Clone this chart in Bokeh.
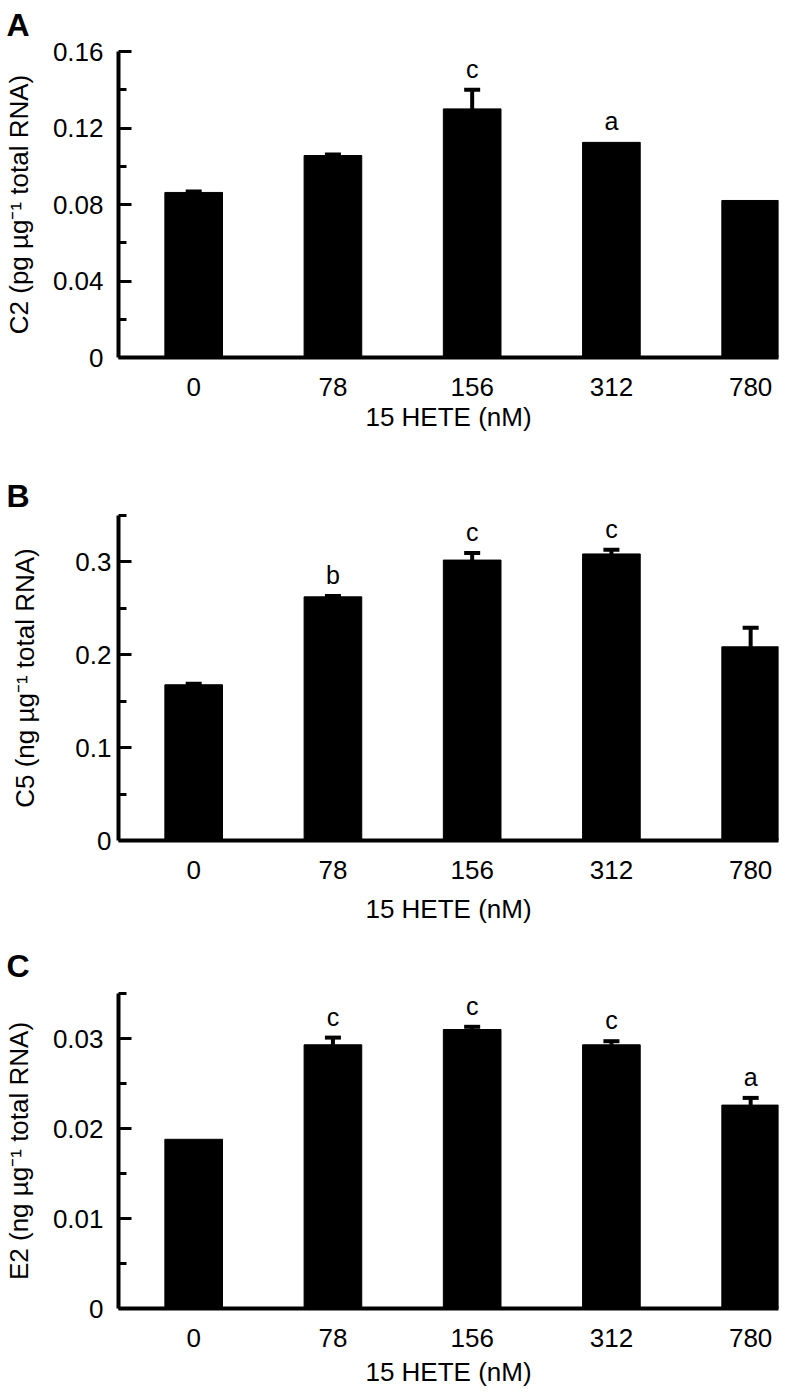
from bokeh.plotting import figure
from bokeh.models import Range1d, FixedTicker, ColumnDataSource, LabelSet, Whisker, TeeHead
from bokeh.core.properties import value
from bokeh.layouts import column
from bokeh.embed import file_html
from bokeh.resources import INLINE

# ---------------- data ----------------
concentrations = ["0", "78", "156", "312", "780"]
x_title = "15 HETE (nM)"

c2_values = [0.0863, 0.1056, 0.1300, 0.1125, 0.0821]
c2_errors = [0.0005, 0.0005, 0.0100, 0.0, 0.0]
c2_letters = ["", "", "c", "a", ""]
c2_ticks = [0, 0.04, 0.08, 0.12, 0.16]
c2_tick_labels = ["0", "0.04", "0.08", "0.12", "0.16"]
c2_minor = [0.02, 0.06, 0.10, 0.14]
c2_ylabel = "C2 (pg µg⁻¹ total RNA)"

c5_values = [0.1677, 0.2624, 0.3020, 0.3086, 0.2086]
c5_errors = [0.0010, 0.0010, 0.0077, 0.0044, 0.0204]
c5_letters = ["", "b", "c", "c", ""]
c5_ticks = [0, 0.1, 0.2, 0.3]
c5_tick_labels = ["0", "0.1", "0.2", "0.3"]
c5_minor = [0.05, 0.15, 0.25, 0.35]
c5_ylabel = "C5 (ng µg⁻¹ total RNA)"

e2_values = [0.0188, 0.0293, 0.0310, 0.0293, 0.0226]
e2_errors = [0.0, 0.0008, 0.0003, 0.0004, 0.0008]
e2_letters = ["", "c", "c", "c", "a"]
e2_ticks = [0, 0.01, 0.02, 0.03]
e2_tick_labels = ["0", "0.01", "0.02", "0.03"]
e2_minor = [0.005, 0.015, 0.025, 0.035]
e2_ylabel = "E2 (ng µg⁻¹ total RNA)"

FONT = "Liberation Sans"
X_START, X_END = -0.54, 4.2
LEFT = 115


def make_panel(values, errors, letters, ticks, tick_labels, minor, ymax, ylabel,
               panel_letter, height, top, bottom, tick_standoff,
               ylab_standoff, xlab_standoff, title_standoff):
    p = figure(width=790, height=height,
               x_range=Range1d(X_START, X_END), y_range=Range1d(0, ymax),
               output_backend="svg", toolbar_location=None,
               min_border_left=LEFT, min_border_right=12,
               min_border_top=top, min_border_bottom=bottom)
    p.outline_line_color = None
    p.xgrid.visible = False
    p.ygrid.visible = False
    p.background_fill_color = "white"
    p.border_fill_color = "white"

    # panel letter as the figure title
    p.title.text = panel_letter
    p.title.align = "left"
    p.title.offset = -(LEFT - 3)
    p.title.vertical_align = "top"
    p.title.standoff = title_standoff
    p.title.text_font = FONT
    p.title.text_font_size = "32px"
    p.title.text_font_style = "bold"
    p.title.text_color = "black"

    xs = list(range(len(concentrations)))
    src = ColumnDataSource(dict(x=xs, v=values))
    p.vbar(x="x", top="v", bottom=0, width=0.414, source=src,
           fill_color="black", line_color="black", line_width=1)

    ex = [x for x, e in zip(xs, errors) if e > 0]
    ev = [v for v, e in zip(values, errors) if e > 0]
    eu = [v + e for v, e in zip(values, errors) if e > 0]
    esrc = ColumnDataSource(dict(x=ex, lower=ev, upper=eu))
    p.add_layout(Whisker(source=esrc, base="x", lower="lower", upper="upper",
                         line_width=4, line_color="black", lower_head=None,
                         upper_head=TeeHead(size=16, line_width=4, line_color="black")))

    lx = [x for x, l in zip(xs, letters) if l]
    ly = [v + e for v, e, l in zip(values, errors, letters) if l]
    lt = [l for l in letters if l]
    lsrc = ColumnDataSource(dict(x=lx, y=ly, t=lt))
    p.add_layout(LabelSet(x="x", y="y", text="t", source=lsrc, y_offset=12,
                          text_align="center", text_baseline="alphabetic",
                          text_font=value(FONT), text_font_size="25px", text_color="black"))

    # x axis
    xa = p.xaxis[0]
    xa.ticker = FixedTicker(ticks=xs)
    xa.major_label_overrides = {i: c for i, c in enumerate(concentrations)}
    xa.major_tick_in = 0
    xa.major_tick_out = 0
    xa.minor_tick_in = 0
    xa.minor_tick_out = 0
    xa.axis_line_width = 4
    xa.axis_line_color = "black"
    xa.major_label_text_font = FONT
    xa.major_label_text_font_size = "26px"
    xa.major_label_text_color = "black"
    xa.major_label_standoff = 20
    xa.axis_label = x_title
    xa.axis_label_text_font = FONT
    xa.axis_label_text_font_size = "26px"
    xa.axis_label_text_font_style = "normal"
    xa.axis_label_text_color = "black"
    xa.axis_label_standoff = xlab_standoff

    # y axis
    ya = p.yaxis[0]
    ya.ticker = FixedTicker(ticks=ticks, minor_ticks=minor)
    ya.major_label_overrides = {t: s for t, s in zip(ticks, tick_labels)}
    ya.major_tick_in = 13
    ya.major_tick_out = 0
    ya.minor_tick_in = 8
    ya.minor_tick_out = 0
    ya.major_tick_line_width = 3
    ya.minor_tick_line_width = 3
    ya.axis_line_width = 4
    ya.axis_line_color = "black"
    ya.major_label_text_font = FONT
    ya.major_label_text_font_size = "26px"
    ya.major_label_text_color = "black"
    ya.major_label_standoff = tick_standoff
    ya.axis_label = ylabel
    ya.axis_label_text_font = FONT
    ya.axis_label_text_font_size = "26px"
    ya.axis_label_text_font_style = "normal"
    ya.axis_label_text_color = "black"
    ya.axis_label_standoff = ylab_standoff
    return p


pA = make_panel(c2_values, c2_errors, c2_letters, c2_ticks, c2_tick_labels, c2_minor, 0.16,
                c2_ylabel, "A", height=448, top=51, bottom=91,
                tick_standoff=15, ylab_standoff=16, xlab_standoff=3, title_standoff=13)
pB = make_panel(c5_values, c5_errors, c5_letters, c5_ticks, c5_tick_labels, c5_minor, 0.35,
                c5_ylabel, "B", height=484, top=67, bottom=92,
                tick_standoff=7, ylab_standoff=32, xlab_standoff=12, title_standoff=0)
pC = make_panel(e2_values, e2_errors, e2_letters, e2_ticks, e2_tick_labels, e2_minor, 0.035,
                e2_ylabel, "C", height=462, top=61, bottom=86,
                tick_standoff=15, ylab_standoff=16, xlab_standoff=7, title_standoff=15)

layout = column(pA, pB, pC)
open("out.html", "w").write(file_html(layout, INLINE))
